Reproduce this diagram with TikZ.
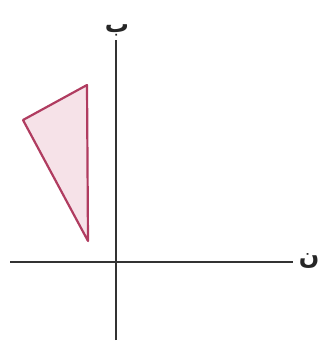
\documentclass[tikz,border=0pt]{standalone}
\usepackage{fontspec}
\TeXXeTstate=1
\newfontfamily\arabicfont[Script=Arabic]{DejaVu Sans}
\begin{document}
\begin{tikzpicture}[x=1pt,y=-1pt,
  axis/.style={draw=black!80,line width=2pt},
  tri/.style={draw={rgb,255:red,176;green,60;blue,96},fill={rgb,255:red,246;green,226;blue,232},line width=2.2pt,line join=round},
  lbl/.style={font=\arabicfont\bfseries\fontsize{24}{24}\selectfont,text=black!85,inner sep=0pt}]
\useasboundingbox (0,0) rectangle (323,344);
\coordinate (yb) at (116,340);
\coordinate (yt) at (116,40);
\coordinate (xl) at (10,262);
\coordinate (xr) at (293,262);
\draw[axis] (yb) -- (yt);
\draw[axis] (xl) -- (xr);
\node[lbl] (ylab) at (117,30) {\beginR ب\endR};
\node[lbl] (xlab) at (309,261) {\beginR ن\endR};
\coordinate (A) at (87,85);
\coordinate (B) at (23,120);
\coordinate (C) at (88,241);
\draw[tri] (A) -- (B) -- (C) -- cycle;
\end{tikzpicture}
\end{document}
